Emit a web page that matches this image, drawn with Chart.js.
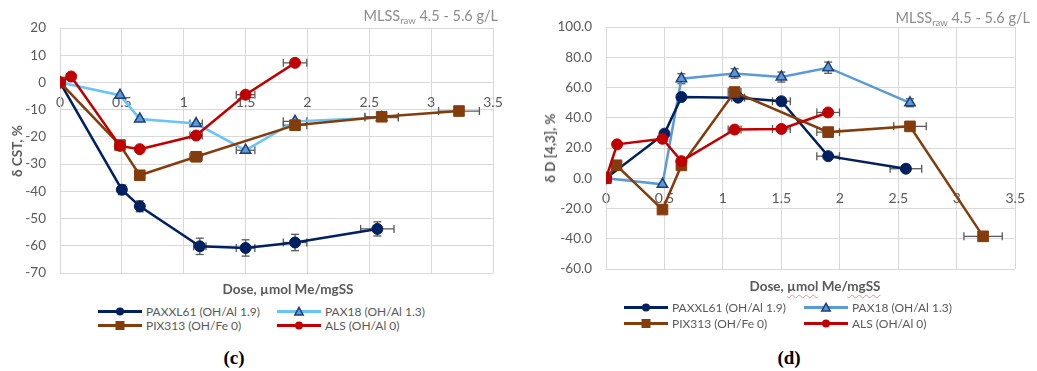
<!DOCTYPE html>
<html>
<head>
<meta charset="utf-8">
<script src="https://cdn.jsdelivr.net/npm/chart.js@4.4.1/dist/chart.umd.min.js"></script>
<style>
  html, body { margin: 0; padding: 0; background: #fff; }
  body { position: relative; width: 1037px; height: 371px; overflow: hidden; font-family: Lato, "Noto Sans", sans-serif; }
  canvas { position: absolute; top: 0; }
  .txt { position: absolute; white-space: nowrap; color: #595959; }
  .note { color: #8c8c8c; font-size: 14.5px; transform: translate(-100%, -50%); }
  .note sub { font-size: 9.5px; vertical-align: -3px; }
  .xtitle { font-weight: bold; font-size: 13.5px; transform: translate(-50%, -50%); }
  .ytitle { font-weight: bold; font-size: 13.5px; transform: translate(-50%, -50%) rotate(-90deg); }
  .spell { text-decoration: underline wavy rgba(215, 70, 70, 0.55); text-decoration-thickness: 1px; text-underline-offset: 3px; }
  .leg { font-size: 12px; display: flex; align-items: center; transform: translateY(-50%); }
  .leg svg { margin-right: 4px; }
  .cap { font-family: "Liberation Serif", serif; font-weight: bold; font-size: 19px; color: #000; transform: translate(-50%, -50%); }
</style>
</head>
<body>
<canvas id="cstChart" width="520" height="300" style="left:0px"></canvas>
<canvas id="dChart" width="517" height="300" style="left:520px"></canvas>

<div class="txt note" style="left:498px; top:16px">MLSS<sub>raw</sub> 4.5 - 5.6 g/L</div>
<div class="txt note" style="left:1030px; top:18px">MLSS<sub>raw</sub> 4.5 - 5.6 g/L</div>

<div class="txt ytitle" style="left:17px; top:151px">δ CST, %</div>
<div class="txt ytitle" style="left:550px; top:148px">δ D [4,3], %</div>
<div class="txt xtitle" style="left:288px; top:289px">Dose, µmol Me/mgSS</div>
<div class="txt xtitle" style="left:815px; top:286px">Dose, <span class="spell">µmol</span> Me/<span class="spell">mgSS</span></div>

<div id="legendC"></div>
<div id="legendD"></div>

<div class="txt cap" style="left:234px; top:358px">(c)</div>
<div class="txt cap" style="left:789px; top:358px">(d)</div>

<script>
// Axis tick labels
const xTickLabels = ['0', '0.5', '1', '1.5', '2', '2.5', '3', '3.5'];
const dTickLabels = ['-60.0', '-40.0', '-20.0', '0.0', '20.0', '40.0', '60.0', '80.0', '100.0'];

// Series names
const seriesNames = ['PAXXL61 (OH/Al 1.9)', 'PAX18 (OH/Al 1.3)', 'PIX313 (OH/Fe 0)', 'ALS (OH/Al 0)'];

// (c) change of capillary suction time, %
const cstPaxxl61Dose    = [0, 0.50, 0.645, 1.13, 1.50, 1.90, 2.565];
const cstPaxxl61        = [0, -39.4, -45.5, -60.2, -60.8, -58.8, -53.8];
const cstPaxxl61DoseErr = [0, 0, 0, 0.05, 0.075, 0.095, 0.135];
const cstPaxxl61Err     = [0, 1.8, 2.0, 3.0, 3.0, 3.0, 2.6];

const cstPax18Dose      = [0, 0.485, 0.645, 1.10, 1.50, 1.90, 2.60];
const cstPax18          = [0, -4.7, -13.4, -15.1, -24.9, -14.3, -12.9];
const cstPax18DoseErr   = [0, 0, 0, 0.05, 0.075, 0.095, 0.135];

const cstPix313Dose     = [0, 0.485, 0.645, 1.10, 1.90, 2.60, 3.225];
const cstPix313         = [0, -23.0, -34.1, -27.3, -15.7, -12.6, -10.5];
const cstPix313DoseErr  = [0, 0, 0, 0.05, 0.095, 0.135, 0.165];

const cstAlsDose        = [0, 0.09, 0.485, 0.645, 1.10, 1.50, 1.90];
const cstAls            = [0, 2.2, -23.3, -24.5, -19.5, -4.5, 7.2];
const cstAlsDoseErr     = [0, 0, 0, 0, 0.05, 0.075, 0.095];

// (d) change of mean floc size D[4,3], %
const dPaxxl61Dose      = [0, 0.50, 0.645, 1.13, 1.50, 1.90, 2.565];
const dPaxxl61          = [0, 29.5, 53.7, 53.3, 50.9, 14.6, 6.3];
const dPaxxl61DoseErr   = [0, 0, 0, 0.055, 0.076, 0.097, 0.135];

const dPax18Dose        = [0, 0.483, 0.645, 1.10, 1.50, 1.90, 2.60];
const dPax18            = [0, -4.0, 65.8, 69.3, 66.9, 73.1, 49.9];
const dPax18Err         = [0, 0, 3.3, 3.1, 3.3, 3.7, 2.6];

const dPix313Dose       = [0, 0.09, 0.483, 0.645, 1.10, 1.90, 2.60, 3.225];
const dPix313           = [0, 8.6, -20.7, 8.5, 57.0, 30.5, 34.3, -38.4];
const dPix313DoseErr    = [0, 0, 0, 0, 0.055, 0.097, 0.139, 0.164];

const dAlsDose          = [0, 0.095, 0.483, 0.645, 1.10, 1.50, 1.90];
const dAls              = [0, 22.4, 26.1, 11.3, 32.2, 32.6, 43.5];
const dAlsDoseErr       = [0, 0, 0, 0, 0.055, 0.076, 0.097];

// Colours
const navy = '#002060';
const skyBlue = '#66c4fa';
const midBlue = '#5b9bd5';
const triFill = '#5b9bd5';
const triEdge = '#1f3d7a';
const brown = '#843c0c';
const red = '#c00000';
const gridColor = '#d9d9d9';
const textColor = '#595959';

const pts = (xs, ys) => xs.map((x, i) => ({ x, y: ys[i] }));

function series(label, xs, ys, color, shape, extra) {
  const base = {
    label,
    data: pts(xs, ys),
    showLine: true,
    borderColor: color,
    backgroundColor: color,
    borderWidth: 2.5,
    tension: 0,
    pointStyle: shape,
    pointRadius: shape === 'rect' ? 7.5 : 5.5,
    pointBorderColor: color,
    pointBackgroundColor: color,
    pointBorderWidth: 1
  };
  return Object.assign(base, extra || {});
}

// Error bars drawn under the markers, from the error arrays held on each dataset
const errorBars = {
  id: 'errorBars',
  beforeDatasetsDraw(chart) {
    const { ctx } = chart;
    const xs = chart.scales.x, ys = chart.scales.y;
    const cap = 4;
    ctx.save();
    ctx.strokeStyle = '#595959';
    ctx.lineWidth = 1.3;
    const seg = (x1, y1, x2, y2) => { ctx.beginPath(); ctx.moveTo(x1, y1); ctx.lineTo(x2, y2); ctx.stroke(); };
    chart.data.datasets.forEach(ds => {
      const ex = ds.xErr || [], ey = ds.yErr || [];
      ds.data.forEach((p, i) => {
        const px = xs.getPixelForValue(p.x), py = ys.getPixelForValue(p.y);
        if (ex[i]) {
          const l = xs.getPixelForValue(p.x - ex[i]), r = xs.getPixelForValue(p.x + ex[i]);
          seg(l, py, r, py); seg(l, py - cap, l, py + cap); seg(r, py - cap, r, py + cap);
        }
        if (ey[i]) {
          const t = ys.getPixelForValue(p.y + ey[i]), b = ys.getPixelForValue(p.y - ey[i]);
          seg(px, t, px, b); seg(px - cap, t, px + cap, t); seg(px - cap, b, px + cap, b);
        }
      });
    });
    ctx.restore();
  }
};

function makeOptions(yMin, yMax, yStep, yWidth, pad, yLabel) {
  return {
    responsive: false,
    animation: false,
    events: [],
    layout: { padding: pad },
    plugins: { legend: { display: false }, tooltip: { enabled: false } },
    scales: {
      x: {
        type: 'linear',
        position: { y: 0 },
        min: 0, max: 3.5,
        grid: { color: gridColor, lineWidth: 1, drawTicks: false },
        border: { color: gridColor, width: 1 },
        ticks: {
          stepSize: 0.5, padding: 12, maxRotation: 0, autoSkip: false,
          color: textColor, font: { family: 'Lato', size: 14 },
          callback: (v, i) => xTickLabels[i]
        }
      },
      y: {
        type: 'linear',
        min: yMin, max: yMax,
        afterFit: s => { s.width = yWidth; },
        grid: { color: gridColor, lineWidth: 1, drawTicks: false },
        border: { color: gridColor, width: 1 },
        ticks: {
          stepSize: yStep, padding: 14,
          color: textColor, font: { family: 'Lato', size: 13.5 },
          callback: yLabel
        }
      }
    }
  };
}

// (c) δ CST
new Chart(document.getElementById('cstChart'), {
  type: 'scatter',
  data: {
    datasets: [
      series(seriesNames[3], cstAlsDose, cstAls, red, 'circle', { order: 0, xErr: cstAlsDoseErr }),
      series(seriesNames[2], cstPix313Dose, cstPix313, brown, 'rect', { order: 1, xErr: cstPix313DoseErr }),
      series(seriesNames[1], cstPax18Dose, cstPax18, skyBlue, 'triangle', {
        order: 2, xErr: cstPax18DoseErr, pointRadius: 6,
        pointBackgroundColor: triFill, pointBorderColor: triEdge, pointBorderWidth: 1.5
      }),
      series(seriesNames[0], cstPaxxl61Dose, cstPaxxl61, navy, 'circle', {
        order: 3, xErr: cstPaxxl61DoseErr, yErr: cstPaxxl61Err
      })
    ]
  },
  options: makeOptions(-70, 20, 10, 50, { left: 10, top: 28, right: 27, bottom: 27 }, v => String(v)),
  plugins: [errorBars]
});

// (d) δ D[4,3]
new Chart(document.getElementById('dChart'), {
  type: 'scatter',
  data: {
    datasets: [
      series(seriesNames[3], dAlsDose, dAls, red, 'circle', { order: 0, xErr: dAlsDoseErr }),
      series(seriesNames[2], dPix313Dose, dPix313, brown, 'rect', { order: 1, xErr: dPix313DoseErr }),
      series(seriesNames[0], dPaxxl61Dose, dPaxxl61, navy, 'circle', { order: 2, xErr: dPaxxl61DoseErr }),
      series(seriesNames[1], dPax18Dose, dPax18, midBlue, 'triangle', {
        order: 3, yErr: dPax18Err, pointRadius: 6,
        pointBackgroundColor: triFill, pointBorderColor: triEdge, pointBorderWidth: 1.5
      })
    ]
  },
  options: makeOptions(-60, 100, 20, 76, { left: 10, top: 27, right: 10, bottom: 31 }, (v, i) => dTickLabels[i]),
  plugins: [errorBars]
});

// Legends: line with marker, two columns by two rows
function icon(color, shape) {
  let m;
  if (shape === 'circle') m = `<circle cx="22" cy="6" r="4" fill="${color}"/>`;
  else if (shape === 'rect') m = `<rect x="17.5" y="1.5" width="9" height="9" fill="${color}"/>`;
  else m = `<polygon points="22,1.8 26.2,9.5 17.8,9.5" fill="${triFill}" stroke="${triEdge}" stroke-width="1.5"/>`;
  return `<svg width="44" height="12"><line x1="0" y1="6" x2="44" y2="6" stroke="${color}" stroke-width="3"/>${m}</svg>`;
}
function legend(el, x1, x2, y1, y2, blue) {
  const items = [
    [x1, y1, navy, 'circle', seriesNames[0]],
    [x2, y1, blue, 'triangle', seriesNames[1]],
    [x1, y2, brown, 'rect', seriesNames[2]],
    [x2, y2, red, 'circle', seriesNames[3]]
  ];
  el.innerHTML = items.map(([x, y, c, s, t]) =>
    `<div class="txt leg" style="left:${x}px; top:${y}px">${icon(c, s)}<span>${t}</span></div>`).join('');
}
legend(document.getElementById('legendC'), 98, 277, 311, 325, skyBlue);
legend(document.getElementById('legendD'), 624, 804, 307, 323, midBlue);
</script>
</body>
</html>
